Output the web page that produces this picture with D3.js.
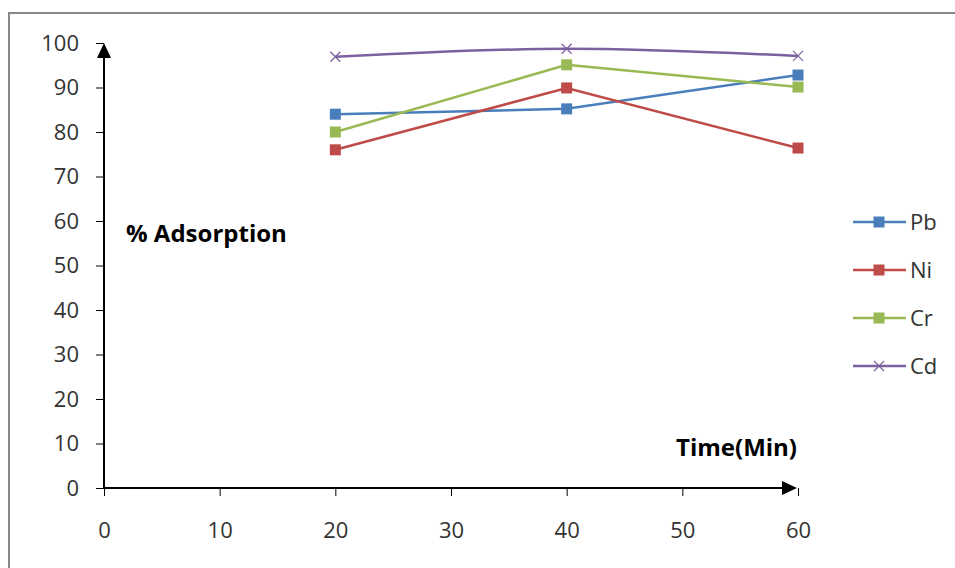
<!DOCTYPE html>
<html>
<head>
<meta charset="utf-8">
<script src="https://cdn.jsdelivr.net/npm/d3@7"></script>
<style>
  body { margin: 0; background: #fff; }
  text { font-family: "Open Sans", "DejaVu Sans", sans-serif; fill: #000; }
</style>
</head>
<body>
<div id="chart"></div>
<script>
// data
var times = [20, 40, 60];
var pb = [84, 85.2, 92.8];
var ni = [76, 89.9, 76.4];
var cr = [80, 95.1, 90.1];
var cd = [96.9, 98.7, 97.1];
var seriesNames = ["Pb", "Ni", "Cr", "Cd"];
var xTicks = [0, 10, 20, 30, 40, 50, 60];
var yTicks = [0, 10, 20, 30, 40, 50, 60, 70, 80, 90, 100];

var series = [
  { name: "Pb", values: pb, color: "#4a7ebb", marker: "square", curve: d3.curveLinear },
  { name: "Ni", values: ni, color: "#be4b48", marker: "square", curve: d3.curveLinear },
  { name: "Cr", values: cr, color: "#98b954", marker: "square", curve: d3.curveLinear },
  { name: "Cd", values: cd, color: "#7d60a0", marker: "cross", curve: d3.curveMonotoneX }
];

var width = 955, height = 568;
var svg = d3.select("#chart").append("svg")
  .attr("width", width)
  .attr("height", height);

// chart frame
svg.append("rect")
  .attr("x", 9).attr("y", 13)
  .attr("width", 960).attr("height", 600)
  .style("fill", "none").style("stroke", "#888").style("stroke-width", 2);

var x = d3.scaleLinear().domain([0, 60]).range([104, 798]);
var y = d3.scaleLinear().domain([0, 100]).range([488, 43]);

// y axis
var yAxis = svg.append("g")
  .attr("transform", "translate(104,0)")
  .call(d3.axisLeft(y).tickValues(yTicks).tickSize(8).tickPadding(17).tickFormat(d3.format("d")));
yAxis.select(".domain").remove();
yAxis.selectAll("line").style("stroke", "#000");
yAxis.selectAll("text").style("font-size", "22px").style("fill", "#333");

// x axis
var xAxis = svg.append("g")
  .attr("transform", "translate(0,488)")
  .call(d3.axisBottom(x).tickValues(xTicks).tickSize(8).tickPadding(26).tickFormat(d3.format("d")));
xAxis.select(".domain").remove();
xAxis.selectAll("line").style("stroke", "#000");
xAxis.selectAll("text").style("font-size", "22px").style("fill", "#333");

// axis lines with arrowheads
svg.append("line")
  .attr("x1", x(0)).attr("y1", y(0)).attr("x2", x(0)).attr("y2", y(100) + 12)
  .style("stroke", "#000").style("stroke-width", 2);
svg.append("path")
  .attr("d", "M" + x(0) + "," + y(100) + " l-7,15 l14,0 z")
  .style("fill", "#000");
svg.append("line")
  .attr("x1", x(0)).attr("y1", y(0)).attr("x2", x(60) - 12).attr("y2", y(0))
  .style("stroke", "#000").style("stroke-width", 2);
svg.append("path")
  .attr("d", "M" + (x(60) - 1) + "," + y(0) + " l-15,-7 l0,14 z")
  .style("fill", "#000");

// lines
series.forEach(function(s) {
  var pts = times.map(function(t, i) { return [t, s.values[i]]; });
  var line = d3.line()
    .x(function(d) { return x(d[0]); })
    .y(function(d) { return y(d[1]); })
    .curve(s.curve);
  svg.append("path")
    .datum(pts)
    .attr("d", line)
    .style("fill", "none")
    .style("stroke", s.color)
    .style("stroke-width", 2.5);
});

function drawMarker(g, s, cx, cy) {
  if (s.marker === "square") {
    g.append("rect")
      .attr("x", cx - 5.5).attr("y", cy - 5.5)
      .attr("width", 11).attr("height", 11)
      .style("fill", s.color);
  } else {
    g.append("path")
      .attr("d", "M" + (cx - 5) + "," + (cy - 5) + "L" + (cx + 5) + "," + (cy + 5) +
                 "M" + (cx - 5) + "," + (cy + 5) + "L" + (cx + 5) + "," + (cy - 5))
      .style("stroke", s.color).style("stroke-width", 1.2).style("fill", "none");
  }
}

// markers
series.forEach(function(s) {
  times.forEach(function(t, i) {
    drawMarker(svg, s, x(t), y(s.values[i]));
  });
});

// axis titles
svg.append("text")
  .attr("x", 126).attr("y", 242)
  .style("font-size", "24px").style("font-weight", "bold")
  .text("% Adsorption");
svg.append("text")
  .attr("x", 797).attr("y", 456)
  .attr("text-anchor", "end")
  .style("font-size", "24px").style("font-weight", "bold")
  .text("Time(Min)");

// legend
var legend = svg.append("g");
series.forEach(function(s, i) {
  var ly = 222 + i * 48;
  legend.append("line")
    .attr("x1", 853).attr("x2", 906).attr("y1", ly).attr("y2", ly)
    .style("stroke", s.color).style("stroke-width", 2.5);
  drawMarker(legend, s, 879, ly);
  legend.append("text")
    .attr("x", 910).attr("y", ly + 8)
    .style("font-size", "22px").style("fill", "#333")
    .text(seriesNames[i]);
});
</script>
</body>
</html>
